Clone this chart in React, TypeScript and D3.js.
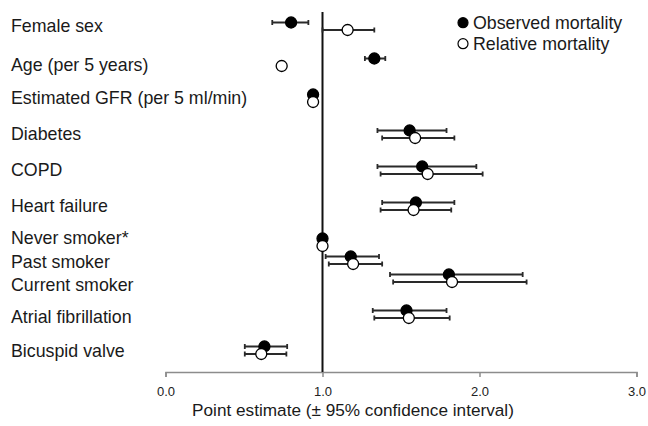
import React, { useRef, useEffect } from 'react';
import * as d3 from 'd3';

// row labels, top to bottom
const labels = [
	'Female sex',
	'Age (per 5 years)',
	'Estimated GFR (per 5 ml/min)',
	'Diabetes',
	'COPD',
	'Heart failure',
	'Never smoker*',
	'Past smoker',
	'Current smoker',
	'Atrial fibrillation',
	'Bicuspid valve',
];
// smoking rows sit closer together
const rowPos = [0, 1, 2, 3, 4, 5, 6, 6.5, 7, 8, 9];
const labelPos = [0, 1.07, 2, 3, 4, 5, 5.9, 6.55, 7.2, 8.07, 9.03];

const observedEst = [0.8, 1.33, 0.94, 1.555, 1.635, 1.595, 1.0, 1.18, 1.805, 1.535, 0.63];
const observedLo = [0.68, 1.27, 0.93, 1.35, 1.35, 1.38, 1.0, 1.02, 1.43, 1.32, 0.505];
const observedHi = [0.91, 1.4, 0.95, 1.79, 1.98, 1.84, 1.0, 1.36, 2.275, 1.79, 0.775];

const relativeEst = [1.16, 0.74, 0.94, 1.59, 1.67, 1.58, 1.0, 1.195, 1.825, 1.55, 0.61];
const relativeLo = [1.0, 0.73, 0.93, 1.38, 1.37, 1.37, 1.0, 1.04, 1.45, 1.33, 0.505];
const relativeHi = [1.33, 0.75, 0.95, 1.84, 2.02, 1.82, 1.0, 1.38, 2.3, 1.81, 0.77];

const seriesNames = ['Observed mortality', 'Relative mortality'];
const xTicks = [0, 1, 2, 3];
const axisTitle = 'Point estimate (± 95% confidence interval)';

const W = 648;
const H = 426;
const FONT = '"Liberation Sans", Arial, sans-serif';

function ForestChart() {
	const svgRef = useRef<SVGSVGElement>(null);

	useEffect(() => {
		const svg = d3.select(svgRef.current);
		svg.selectAll('*').remove();

		const x = d3.scaleLinear().domain([0, 3]).range([165.5, 636.5]);
		const y = d3.scaleLinear().domain([0, 9]).range([22.5, 346.5]);
		const axisY = 372;

		// x axis at the bottom
		const xAxis = d3
			.axisBottom(x)
			.tickValues(xTicks)
			.tickFormat(d3.format('.1f'))
			.tickSize(5)
			.tickPadding(10);
		const gx = svg
			.append('g')
			.attr('transform', `translate(0, ${axisY})`)
			.call(xAxis)
			.attr('font-size', 13)
			.attr('font-family', FONT);
		gx.select('.domain').attr('stroke', '#8c8c8c').attr('stroke-width', 1.5);
		gx.selectAll('.tick line').attr('stroke', '#8c8c8c').attr('stroke-width', 1.5);
		gx.selectAll('.tick text').attr('fill', '#222');

		svg
			.append('text')
			.attr('x', 353)
			.attr('y', 415.5)
			.attr('text-anchor', 'middle')
			.attr('font-family', FONT)
			.attr('font-size', 17.2)
			.attr('fill', '#1a1a1a')
			.text(axisTitle);

		// reference line at 1.0
		svg
			.append('line')
			.attr('x1', x(1))
			.attr('x2', x(1))
			.attr('y1', 12)
			.attr('y2', axisY)
			.attr('stroke', '#111')
			.attr('stroke-width', 2);

		// row labels
		svg
			.selectAll('.rowLabel')
			.data(labels)
			.join('text')
			.attr('class', 'rowLabel')
			.attr('x', 11)
			.attr('y', (_, i) => y(labelPos[i]) + 9.5)
			.attr('font-family', FONT)
			.attr('font-size', 17.8)
			.attr('fill', '#1a1a1a')
			.text((d) => d);

		const series = [
			{ est: observedEst, lo: observedLo, hi: observedHi, fill: '#000', dy: 0 },
			{ est: relativeEst, lo: relativeLo, hi: relativeHi, fill: '#fff', dy: 7.5 },
		];

		series.forEach((s, si) => {
			const g = svg.append('g');
			const rows = labels.map((_, i) => ({
				cy: y(rowPos[i]) + s.dy,
				lo: x(s.lo[i]),
				hi: x(s.hi[i]),
				cx: x(s.est[i]),
			}));

			// error bar with little caps
			g.selectAll('.bar' + si)
				.data(rows)
				.join('path')
				.attr('class', 'bar' + si)
				.attr('fill', 'none')
				.attr('stroke', '#2a2a2a')
				.attr('stroke-width', 1.8)
				.attr(
					'd',
					(d) =>
						`M${d.lo},${d.cy}H${d.hi}M${d.lo},${d.cy - 2.5}V${d.cy + 2.5}M${d.hi},${d.cy - 2.5}V${d.cy + 2.5}`
				);

			g.selectAll('.dot' + si)
				.data(rows)
				.join('circle')
				.attr('class', 'dot' + si)
				.attr('cx', (d) => d.cx)
				.attr('cy', (d) => d.cy)
				.attr('r', 5.5)
				.attr('fill', s.fill)
				.attr('stroke', '#000')
				.attr('stroke-width', 1.3);
		});

		// legend top right
		const legend = svg
			.selectAll('.legendItem')
			.data(seriesNames)
			.join('g')
			.attr('class', 'legendItem')
			.attr('transform', (_, i) => `translate(463, ${22.7 + i * 21})`);
		legend
			.append('circle')
			.attr('r', 5)
			.attr('fill', (_, i) => series[i].fill)
			.attr('stroke', '#000')
			.attr('stroke-width', 1.2);
		legend
			.append('text')
			.attr('x', 10)
			.attr('y', 6.2)
			.attr('font-family', FONT)
			.attr('font-size', 17.8)
			.attr('fill', '#1a1a1a')
			.text((d) => d);
	}, []);

	return (
		<svg
			ref={svgRef}
			width={W}
			height={H}
			style={{ position: 'absolute', left: 0, top: 0, background: '#fff' }}
		/>
	);
}

export default function App() {
	return <ForestChart />;
}
